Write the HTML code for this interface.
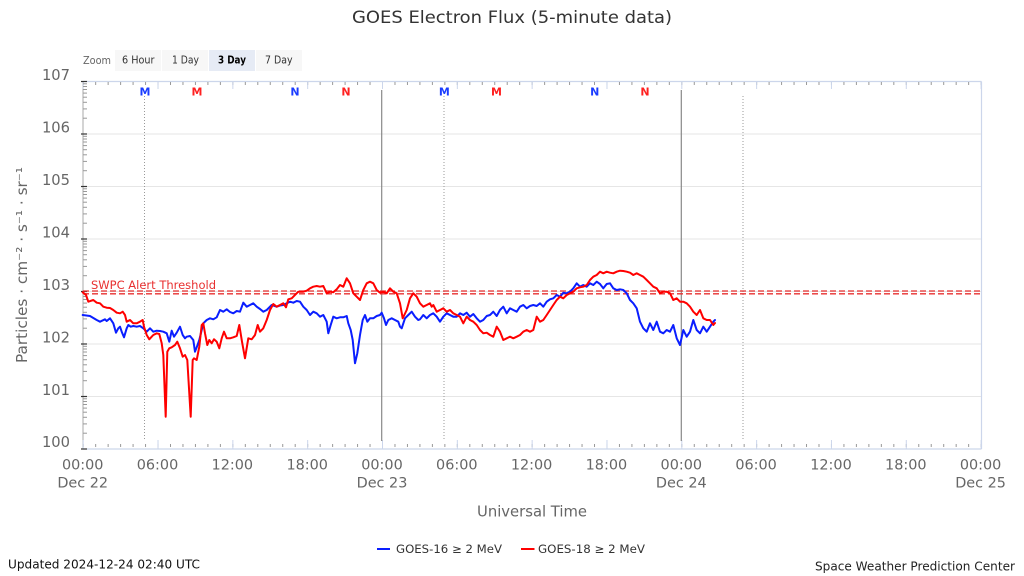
<!DOCTYPE html>
<html>
<head>
<meta charset="utf-8">
<style>
  html,body{margin:0;padding:0;background:#fff;}
  svg{display:block;}
  text{font-family:"DejaVu Sans","Liberation Sans",sans-serif;}
</style>
</head>
<body>
<svg width="1024" height="576" viewBox="0 0 1024 576" xmlns="http://www.w3.org/2000/svg">
  <rect x="0" y="0" width="1024" height="576" fill="#fff"/>

  <!-- Title -->
  <text x="512" y="23" text-anchor="middle" font-size="17" fill="#333" textLength="320" lengthAdjust="spacingAndGlyphs">GOES Electron Flux (5-minute data)</text>

  <!-- Zoom buttons -->
  <text x="83" y="64" font-size="11" fill="#666" textLength="28" lengthAdjust="spacingAndGlyphs">Zoom</text>
  <rect x="115" y="50" width="46" height="21" fill="#f7f7f7"/>
  <rect x="162" y="50" width="46" height="21" fill="#f7f7f7"/>
  <rect x="209" y="50" width="46" height="21" fill="#e6ebf5"/>
  <rect x="256" y="50" width="46" height="21" fill="#f7f7f7"/>
  <text x="122" y="63.5" font-size="11" fill="#333" textLength="32.5" lengthAdjust="spacingAndGlyphs">6 Hour</text>
  <text x="172" y="63.5" font-size="11" fill="#333" textLength="27" lengthAdjust="spacingAndGlyphs">1 Day</text>
  <text x="218" y="63.5" font-size="11" fill="#000" font-weight="bold" textLength="28" lengthAdjust="spacingAndGlyphs">3 Day</text>
  <text x="265" y="63.5" font-size="11" fill="#333" textLength="27.5" lengthAdjust="spacingAndGlyphs">7 Day</text>

  <!-- Horizontal grid lines -->
  <g stroke="#e6e6e6" stroke-width="1">
    <line x1="83" y1="134" x2="981" y2="134"/>
    <line x1="83" y1="186.5" x2="981" y2="186.5"/>
    <line x1="83" y1="239" x2="981" y2="239"/>
    <line x1="83" y1="291.5" x2="981" y2="291.5"/>
    <line x1="83" y1="344" x2="981" y2="344"/>
    <line x1="83" y1="396.5" x2="981" y2="396.5"/>
  </g>

  <!-- plot borders -->
  <line x1="83" y1="81.5" x2="981.5" y2="81.5" stroke="#ccd6eb" stroke-width="1.2"/>
  <line x1="981.5" y1="81.5" x2="981.5" y2="449" stroke="#ccd6eb" stroke-width="1.2"/>
  <line x1="83" y1="449" x2="981.5" y2="449" stroke="#ccd6eb" stroke-width="1.2"/>
  <line x1="83" y1="81.5" x2="83" y2="449" stroke="#aaa" stroke-width="1"/>

  <!-- top hourly ticks -->
  <line x1="82.7" y1="83.5" x2="981" y2="83.5" stroke="#999" stroke-width="3" stroke-dasharray="1 11.471"/>
  <line x1="82.7" y1="85.5" x2="981" y2="85.5" stroke="#ccd6eb" stroke-width="7" stroke-dasharray="1 73.826"/>
  <!-- bottom hourly ticks -->
  <line x1="82.7" y1="445.5" x2="981" y2="445.5" stroke="#999" stroke-width="3" stroke-dasharray="1 11.471"/>
  <line x1="82.7" y1="444.5" x2="981" y2="444.5" stroke="#ccd6eb" stroke-width="9" stroke-dasharray="1 73.826"/>

  <!-- y axis minor ticks (log) -->
  <defs>
    <g id="mt" stroke="#999" stroke-width="1">
      <line x1="83" x2="87" y1="-15.8" y2="-15.8"/>
      <line x1="83" x2="87" y1="-25.1" y2="-25.1"/>
      <line x1="83" x2="87" y1="-31.7" y2="-31.7"/>
      <line x1="83" x2="87" y1="-36.8" y2="-36.8"/>
      <line x1="83" x2="87" y1="-40.9" y2="-40.9"/>
      <line x1="83" x2="87" y1="-44.5" y2="-44.5"/>
      <line x1="83" x2="87" y1="-47.5" y2="-47.5"/>
      <line x1="83" x2="87" y1="-50.2" y2="-50.2"/>
    </g>
  </defs>
  <use href="#mt" transform="translate(0,134)"/>
  <use href="#mt" transform="translate(0,186.5)"/>
  <use href="#mt" transform="translate(0,239)"/>
  <use href="#mt" transform="translate(0,291.5)"/>
  <use href="#mt" transform="translate(0,344)"/>
  <use href="#mt" transform="translate(0,396.5)"/>
  <use href="#mt" transform="translate(0,449)"/>
  <!-- y major ticks -->
  <g stroke="#333" stroke-width="1.2">
    <line x1="81" x2="87" y1="81.5" y2="81.5"/>
    <line x1="81" x2="87" y1="134" y2="134"/>
    <line x1="81" x2="87" y1="186.5" y2="186.5"/>
    <line x1="81" x2="87" y1="239" y2="239"/>
    <line x1="81" x2="87" y1="291.5" y2="291.5"/>
    <line x1="81" x2="87" y1="344" y2="344"/>
    <line x1="81" x2="87" y1="396.5" y2="396.5"/>
    <line x1="81" x2="87" y1="449" y2="449"/>
  </g>

  <!-- Y labels -->
  <g font-size="14.7" fill="#666" text-anchor="end">
    <text x="70" y="80">107</text>
    <text x="70" y="132.5">106</text>
    <text x="70" y="185">105</text>
    <text x="70" y="237.5">104</text>
    <text x="70" y="290">103</text>
    <text x="70" y="342.5">102</text>
    <text x="70" y="395">101</text>
    <text x="70" y="447">100</text>
  </g>

  <!-- Y axis title -->
  <text transform="translate(27,265) rotate(-90)" text-anchor="middle" font-size="15" fill="#666" textLength="196" lengthAdjust="spacingAndGlyphs">Particles · cm⁻² · s⁻¹ · sr⁻¹</text>

  <!-- Vertical day lines -->
  <line x1="381.7" y1="90" x2="381.7" y2="441" stroke="#888" stroke-width="1.2"/>
  <line x1="681.3" y1="90" x2="681.3" y2="441" stroke="#888" stroke-width="1.2"/>
  <!-- dotted lines -->
  <g stroke="#999" stroke-width="1" stroke-dasharray="1 2">
    <line x1="144.5" y1="96" x2="144.5" y2="441"/>
    <line x1="444" y1="96" x2="444" y2="441"/>
    <line x1="743" y1="96" x2="743" y2="441"/>
  </g>

  <!-- M / N markers -->
  <g font-size="11" font-weight="bold" text-anchor="middle">
    <text x="145" y="95.5" fill="#1a3cff">M</text>
    <text x="197" y="95.5" fill="#ff2020">M</text>
    <text x="295" y="95.5" fill="#1a3cff">N</text>
    <text x="346" y="95.5" fill="#ff2020">N</text>
    <text x="444.3" y="95.5" fill="#1a3cff">M</text>
    <text x="496.5" y="95.5" fill="#ff2020">M</text>
    <text x="594.7" y="95.5" fill="#1a3cff">N</text>
    <text x="645" y="95.5" fill="#ff2020">N</text>
  </g>

  <!-- Threshold -->
  <line x1="83" y1="291" x2="981" y2="291" stroke="#e83030" stroke-width="1.3" stroke-dasharray="6 3"/>
  <line x1="83" y1="293.8" x2="981" y2="293.8" stroke="#e83030" stroke-width="1.3" stroke-dasharray="6 3"/>
  <text x="91" y="289" font-size="11.5" fill="#e83030" textLength="125" lengthAdjust="spacingAndGlyphs">SWPC Alert Threshold</text>

  <!-- GOES-16 blue -->
  <polyline fill="none" stroke="#0a1eff" stroke-width="2" stroke-linejoin="round" stroke-linecap="round" points="82.7,315 90,316 96.7,320 100,321.7 105,319.3 106.7,321 110,318.3 113.3,323.3 116,332.7 118.3,328.3 120,326.7 121.7,331.7 124,337.3 126.7,328.3 128.3,325 130.7,326.7 133.3,326 136.7,326.7 140,326 143.3,328.3 146.7,331.7 150,328.3 153.3,331.7 156.7,330.7 160,331 163.3,331.7 166.7,333.3 169.3,341.7 171.7,330.7 174,336.7 176.7,332.7 180,326.7 182.7,335 185,338.3 186.7,336.7 190,336 193.3,340 195,351.7 196.7,347.3 199.3,340 201.7,330 203.3,323.3 206.7,320 210,318.3 213.3,319.3 216.7,317.3 220,310 223.3,311.7 226.7,309.3 230,312 233.3,313.3 236.7,311 240,311.7 243.3,302.7 246.7,306.7 250,305 253.3,303.3 256.7,306.7 260,309 263.3,311.7 266.7,310 271.7,305 276.7,306.7 280,305.5 283.3,305 286.7,303.3 290,301.7 293.3,302.7 296.7,301 300,301.7 303.3,306.7 306.7,310 310,315 313.3,311.7 316.7,313.3 320,316.7 323.3,315 326.7,321.7 328.3,333.3 330.7,325 333.3,316.7 336.7,318.3 340,317.3 343.3,317.3 346.7,316 348.3,323.3 350.7,330 352.7,340 355,363.3 357.3,353.3 360,335 362.7,320 365,315 367.3,321.7 370,318.3 373.3,318.3 376.7,316 380,315 381.7,312.7 384,318.3 386,325 388.3,320 391.7,318.3 395,320 398.3,321.7 400,326.7 401.7,328.3 405,318.3 408.3,315 411.7,311.7 415,316.7 418.3,320 420,319.3 423.3,315 426.7,318.3 430,315 433.3,313.3 436.7,316.7 440,321.7 443.3,316.7 446.7,313.3 450,315 453.3,316.7 456.7,316.7 460,313.3 463.3,315 466.7,312.7 470,316.7 473.3,314 476.7,318.3 480,321.7 483.3,320 486.7,316 490,315 493.3,311.7 496.7,316 500,310 503.3,306.7 506.7,313.3 510,308.3 513.3,310 516.7,311.7 520,306.7 523.3,305 526.7,308.3 530,306 533.3,305 536.7,306 540,303.3 543.3,306.7 546.7,301.7 550,299.3 553.3,298.3 556.7,295 560,296.7 563.3,292.7 566.7,293.3 570,291.7 573.3,288.3 576.7,283.3 580,286.7 583.3,285 586.7,286.7 590,283.3 593.3,285 596.7,281.7 600,284 603.3,288.3 606.7,284 610,283.3 613.3,288.3 616.7,290 620,289.3 623.3,290 626.7,293.3 630,300 633.3,303.3 636.7,308.3 640,321.7 643.3,328.3 646.7,331.7 650,323.3 653.3,330 656.7,321.7 660,331.7 663.3,333.3 666.7,330 670,331.7 673.3,325 676.7,338.3 680,345 683.3,330 686.7,336.7 690,331.7 693.3,320 696.7,330 700,333.3 703.3,326.7 706.7,331.7 710,326.7 713.3,321.7 715,320"/>

  <!-- GOES-18 red -->
  <polyline fill="none" stroke="#ff0000" stroke-width="2" stroke-linejoin="round" stroke-linecap="round" points="82.7,292.3 86,295 88.3,301.7 93.3,300 96.7,302.7 100,303.3 103.3,306.7 106.7,307.7 110,308 113.3,310 116.7,312.7 120,313.3 122.7,311.7 125,315 126.7,321.7 130,320 133.3,323.3 136.7,323.3 140,321.7 142.7,320 144,326.7 146.7,335 149.3,339.3 151.7,336.7 153.3,335 156.7,333.3 159.3,334 161.7,343.3 163.3,355 165.7,416.7 167.3,351.7 169.3,348.3 171.7,347.3 175,345 177.3,341.7 180,348.3 182.7,356.7 185,355 187.3,360 190.7,416.7 192.7,360 194,358.3 196.7,360 199.3,346.7 201.7,325 203.3,323.3 205,333.3 207.3,345 209.3,340 211.7,343.3 214,339.3 216.7,341.7 219.3,348.3 221.7,338.3 224,331.7 226.7,338.3 230,338.3 233.3,337.3 236.7,336 239.3,325 242,341.7 245,358.3 248.3,338.3 251.7,339.3 255,335 257.7,325 260,331.7 263.3,328.3 266.7,320 270,310 273.3,304 276.7,306.7 280,305 283.3,303.3 286,307.3 288.3,299.3 291.7,298.3 293.3,296.7 298.3,291.7 303.3,291.7 306.7,290.7 310,288.3 313.3,286.7 316.7,286 320,286.7 323.3,286 326.7,293.3 330,291.7 333.3,292.3 336.7,289.3 340,285 343.3,286.7 346.7,278.3 350,283.3 353.3,293.3 356.7,296.7 360,300 363.3,290 366.7,283.3 370,281.7 373.3,283.3 376.7,290 380,292.7 383.3,291.7 386.7,293.3 390,288.3 393.3,291.7 396.7,293.3 400,303.3 402.7,318.3 406.7,310 410,298.3 413.3,293.3 416.7,296.7 420,303.3 423.3,306.7 426.7,305 430,303.3 431.7,306.7 433.3,305 436.7,311.7 440,310 443.3,308.3 446.7,311.7 450,310 453.3,313.3 456.7,315 460,316.7 463.3,323.3 466.7,316.7 470,320 473.3,321.7 476.7,325 480,330 483.3,333.3 486.7,332.7 490,335 493.3,336.7 496.7,326.7 500,331.7 503.3,340 506.7,338.3 510,336.7 513.3,338.3 516.7,336.7 520,335 523.3,331.7 526.7,330 530,331.7 533.3,330 536.7,316.7 540,321.7 543.3,320 546.7,315 550,310 553.3,305 556.7,300 560,296.7 563.3,298.3 566.7,295 570,293.3 573.3,291.7 576.7,288.3 580,287.3 583.3,286.7 586.7,285 590,280 593.3,276.7 596.7,275 600,271.7 603.3,273.3 606.7,271.7 610,272.7 613.3,273.3 616.7,271.7 620,270.7 623.3,271 626.7,271.7 630,272.7 633.3,275 636.7,273.3 640,275 643.3,276.7 646.7,280 650,283.3 653.3,286.7 656.7,288.3 660,293.3 663.3,291.7 666.7,291.7 670,293.3 673.3,300 676.7,298.3 680,301.7 683.3,301.7 686.7,303.3 690,306.7 693.3,311.7 696.7,315 700,310 703.3,318.3 706.7,320 710,320 713.3,325 715,323"/>

  <!-- X labels -->
  <g font-size="14.4" fill="#666" text-anchor="middle">
    <text x="82.7" y="469.5">00:00</text>
    <text x="157.5" y="469.5">06:00</text>
    <text x="232.3" y="469.5">12:00</text>
    <text x="307.2" y="469.5">18:00</text>
    <text x="382" y="469.5">00:00</text>
    <text x="456.8" y="469.5">06:00</text>
    <text x="531.6" y="469.5">12:00</text>
    <text x="606.4" y="469.5">18:00</text>
    <text x="681.3" y="469.5">00:00</text>
    <text x="756.1" y="469.5">06:00</text>
    <text x="831" y="469.5">12:00</text>
    <text x="905.8" y="469.5">18:00</text>
    <text x="980.6" y="469.5">00:00</text>
    <text x="82.7" y="487.5">Dec 22</text>
    <text x="382" y="487.5">Dec 23</text>
    <text x="681.3" y="487.5">Dec 24</text>
    <text x="980.6" y="487.5">Dec 25</text>
  </g>

  <text x="532" y="516.5" text-anchor="middle" font-size="15" fill="#666" textLength="110" lengthAdjust="spacingAndGlyphs">Universal Time</text>

  <!-- Legend -->
  <line x1="377" y1="549" x2="390" y2="549" stroke="#0a1eff" stroke-width="2"/>
  <text x="396" y="553" font-size="11.5" fill="#333" textLength="106" lengthAdjust="spacingAndGlyphs">GOES-16 ≥ 2 MeV</text>
  <line x1="521" y1="549" x2="534.5" y2="549" stroke="#ff0000" stroke-width="2"/>
  <text x="538" y="553" font-size="11.5" fill="#333" textLength="107" lengthAdjust="spacingAndGlyphs">GOES-18 ≥ 2 MeV</text>

  <!-- Footer -->
  <text x="8" y="568.5" font-size="12" fill="#111" textLength="192" lengthAdjust="spacingAndGlyphs">Updated 2024-12-24 02:40 UTC</text>
  <text x="815" y="570.5" font-size="12" fill="#222" textLength="200" lengthAdjust="spacingAndGlyphs">Space Weather Prediction Center</text>
</svg>
</body>
</html>
